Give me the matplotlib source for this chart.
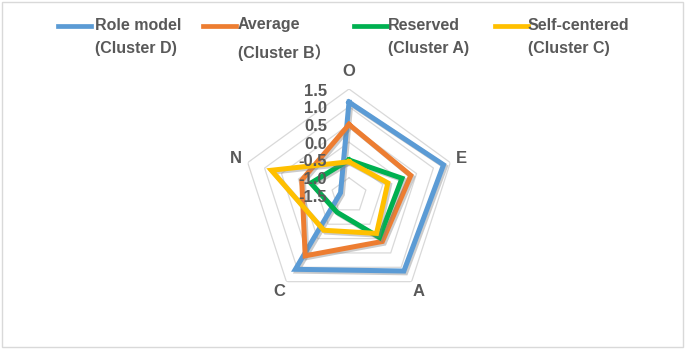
import numpy as np
from matplotlib import pyplot as plt
from matplotlib import patheffects as pe
from matplotlib.lines import Line2D
from matplotlib.patches import Rectangle


# Chart data
categories = ["O", "E", "A", "C", "N"]
role_model = [1.13, 1.30, 1.13, 1.07, -1.25]
average = [0.50, 0.33, 0.10, 0.60, -0.10]
reserved = [-0.50, 0.07, -0.04, -0.92, -0.37]
self_centered = [-0.55, -0.35, -0.18, -0.29, 0.80]
ring_values = [-1.5, -1.0, -0.5, 0.0, 0.5, 1.0, 1.5]

series_names = [("Role model", "(Cluster D)"), ("Average", "(Cluster B）"),
				("Reserved", "(Cluster A)"), ("Self-centered", "(Cluster C)")]
series_values = [role_model, average, reserved, self_centered]
series_colors = ["#5B9BD5", "#ED7D31", "#00B050", "#FFC000"]

TEXT_COLOR = "#595959"
GRID_COLOR = "#D9D9D9"
FONT = ["Liberation Sans", "Noto Sans CJK JP", "DejaVu Sans"]

W, H = 685, 349
fig = plt.figure(figsize = (W / 100, H / 100), dpi = 100)

# Outer border of the chart area
fig.add_artist(Rectangle((2 / W, 2 / H), 681 / W, 345 / H, transform = fig.transFigure,
						 fill = False, edgecolor = GRID_COLOR, linewidth = 1))

# Radar axes (polar, clockwise from the top)
cx, cy, R = 349, H - 195.5, 106.5
ax = fig.add_axes([(cx - R) / W, (cy - R) / H, 2 * R / W, 2 * R / H], projection = "polar")
ax.set_theta_zero_location("N")
ax.set_theta_direction(-1)
ax.set_ylim(ring_values[0], ring_values[-1])
ax.set_xticks([])
ax.set_yticks([])
ax.grid(False)
ax.spines["polar"].set_visible(False)
ax.patch.set_visible(False)

angles = np.linspace(0, 2 * np.pi, len(categories), endpoint = False)
closed = np.append(angles, angles[0])

# Pentagon gridlines
for v in ring_values[1:]:
	ax.plot(closed, [v] * len(closed), color = GRID_COLOR, linewidth = 0.9, zorder = 1)

# Category labels
label_r = [1.98, 1.84, 1.85, 1.83, 1.84]
for ang, name, r in zip(angles, categories, label_r):
	ax.text(ang, r, name, ha = "center", va = "center", fontsize = 12,
			color = TEXT_COLOR, family = FONT, fontweight = "bold")

# Series lines with a soft shadow
shadow = [pe.SimpleLineShadow(offset = (1.3, -1.3), shadow_color = "gray", alpha = 0.4), pe.Normal()]
for values, color in zip(series_values, series_colors):
	ax.plot(closed, values + values[:1], color = color, linewidth = 3.6,
			solid_joinstyle = "miter", path_effects = shadow, zorder = 3)

# Value labels along the vertical axis, drawn over the lines
for v in ring_values:
	ax.annotate(f"{v:.1f}", (0, v), xytext = (-22, -2), textcoords = "offset pixels",
				ha = "right", va = "center", fontsize = 12, color = TEXT_COLOR,
				family = FONT, fontweight = "bold", zorder = 6)

# Legend (two-line labels, handle aligned to the first line)
handle_x = [58, 203, 354, 495]
text_x = [95, 238, 388, 528]
row1_y = [26, 24, 26, 26]
row2_y = [49, 53, 49, 49]
for i, (first, second) in enumerate(series_names):
	fig.add_artist(Line2D([handle_x[i] / W, (handle_x[i] + 33) / W], [1 - 25.5 / H, 1 - 25.5 / H],
						  color = series_colors[i], linewidth = 3.4, transform = fig.transFigure))
	fig.text(text_x[i] / W, 1 - row1_y[i] / H, first, ha = "left", va = "center",
			 fontsize = 11.5, color = TEXT_COLOR, family = FONT, fontweight = "bold")
	fig.text(text_x[i] / W, 1 - row2_y[i] / H, second, ha = "left", va = "center",
			 fontsize = 11.5, color = TEXT_COLOR, family = FONT, fontweight = "bold")

fig.savefig("out.png", dpi = 100)
